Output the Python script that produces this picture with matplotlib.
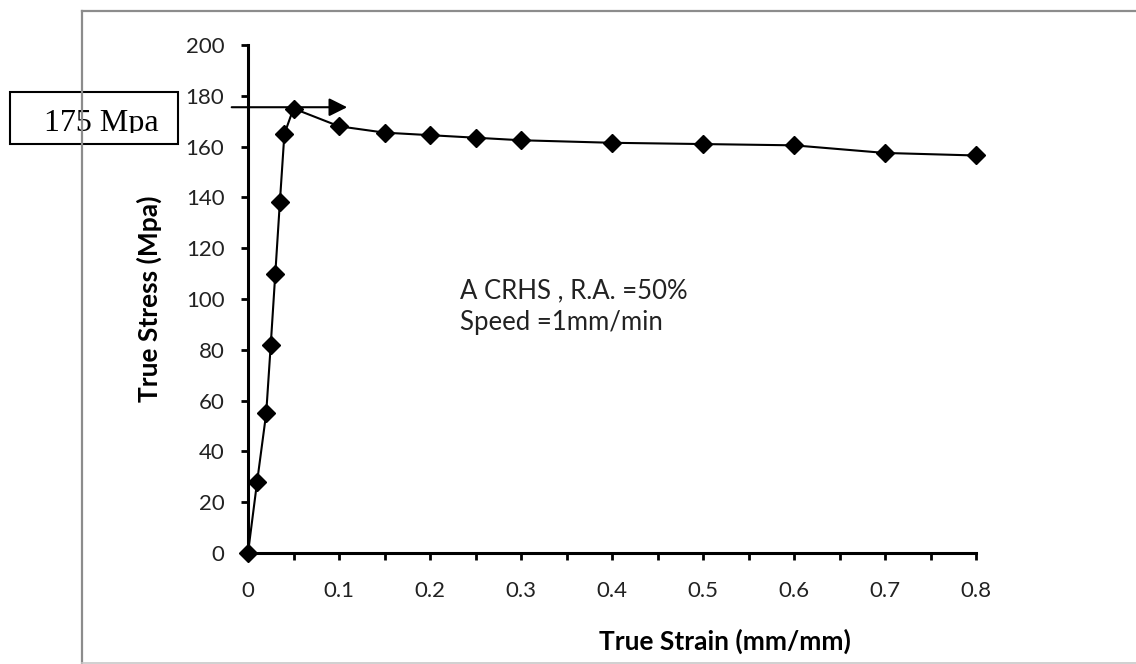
import matplotlib.pyplot as plt
from matplotlib.lines import Line2D
from matplotlib.patches import Rectangle, FancyArrowPatch
from matplotlib.ticker import MultipleLocator

strain = [0, 0.01, 0.02, 0.025, 0.03, 0.035, 0.04, 0.05, 0.1, 0.15, 0.2,
          0.25, 0.3, 0.4, 0.5, 0.6, 0.7, 0.8]
stress = [0, 28, 55, 82, 110, 138, 165, 175, 168, 165.5, 164.5,
          163.5, 162.5, 161.5, 161, 160.5, 157.5, 156.5]
peak_label = "175 Mpa"
peak_value = 175.5
note = "A CRHS , R.A. =50%\nSpeed =1mm/min"

plt.rcParams["font.family"] = ["Lato", "DejaVu Sans"]

W, H = 1136, 664
fig = plt.figure(figsize=(W / 100, H / 100), dpi=100)
ax = fig.add_axes([248 / W, 1 - 553 / H, 728 / W, 508 / H])

ax.plot(strain, stress, color="black", lw=1.5, marker="D", ms=9,
        clip_on=False, zorder=3)

ax.set_xlim(0, 0.8)
ax.set_ylim(0, 200)
ax.xaxis.set_major_locator(MultipleLocator(0.1))
ax.xaxis.set_minor_locator(MultipleLocator(0.05))
ax.yaxis.set_major_locator(MultipleLocator(20))
ax.set_xticklabels([f"{v:g}" for v in ax.get_xticks()])

for s in ("top", "right"):
    ax.spines[s].set_visible(False)
for s in ("left", "bottom"):
    ax.spines[s].set_linewidth(2.2)

ax.tick_params(axis="both", which="both", direction="out", length=5,
               width=2, labelsize=16, colors="black")
ax.tick_params(axis="x", which="both", pad=15)
ax.tick_params(axis="y", pad=12)
for lab in ax.get_xticklabels() + ax.get_yticklabels():
    lab.set_color("#222222")

ax.set_xlabel("True Strain (mm/mm)", fontsize=19, fontweight="bold")
ax.set_ylabel("True Stress (Mpa)", fontsize=19, fontweight="bold")
ax.xaxis.set_label_coords(0.655, -0.148)
ax.yaxis.set_label_coords(-0.118, 0.5)

ax.text(0.233, 108, note, fontsize=18.5, va="top", ha="left",
        linespacing=1.3, color="#222222")

# arrow to peak stress
arrow = FancyArrowPatch((-0.021, peak_value), (0.112, peak_value),
                        arrowstyle="-|>,head_length=1.0,head_width=0.5",
                        mutation_scale=11, color="black", lw=1.5,
                        clip_on=False, zorder=4)
ax.add_patch(arrow)

# callout box
box = Rectangle((10 / W, 1 - 144 / H), 168 / W, 52 / H,
                transform=fig.transFigure, facecolor="white",
                edgecolor="black", lw=1.5, zorder=5)
fig.add_artist(box)
clip = Rectangle((10 / W, 1 - 133 / H), 168 / W, 41 / H,
                 transform=fig.transFigure, visible=False)
fig.add_artist(clip)
t = fig.text(44 / W, 1 - 131 / H, peak_label, fontsize=23,
             family="Liberation Serif", va="baseline", ha="left", zorder=6)
t.set_clip_path(clip)

# outer frame
fig.add_artist(Line2D([81.5 / W, 81.5 / W], [1 - 11 / H, 0], color="#8c8c8c",
                      lw=1.6, zorder=10))
fig.add_artist(Line2D([81.5 / W, 1], [1 - 11 / H, 1 - 11 / H], color="#8c8c8c",
                      lw=1.6, zorder=10))
fig.add_artist(Line2D([81.5 / W, 1], [1 - 662.5 / H, 1 - 662.5 / H],
                      color="#c8c8c8", lw=1.2, zorder=10))

fig.savefig("out.png", dpi=100)
